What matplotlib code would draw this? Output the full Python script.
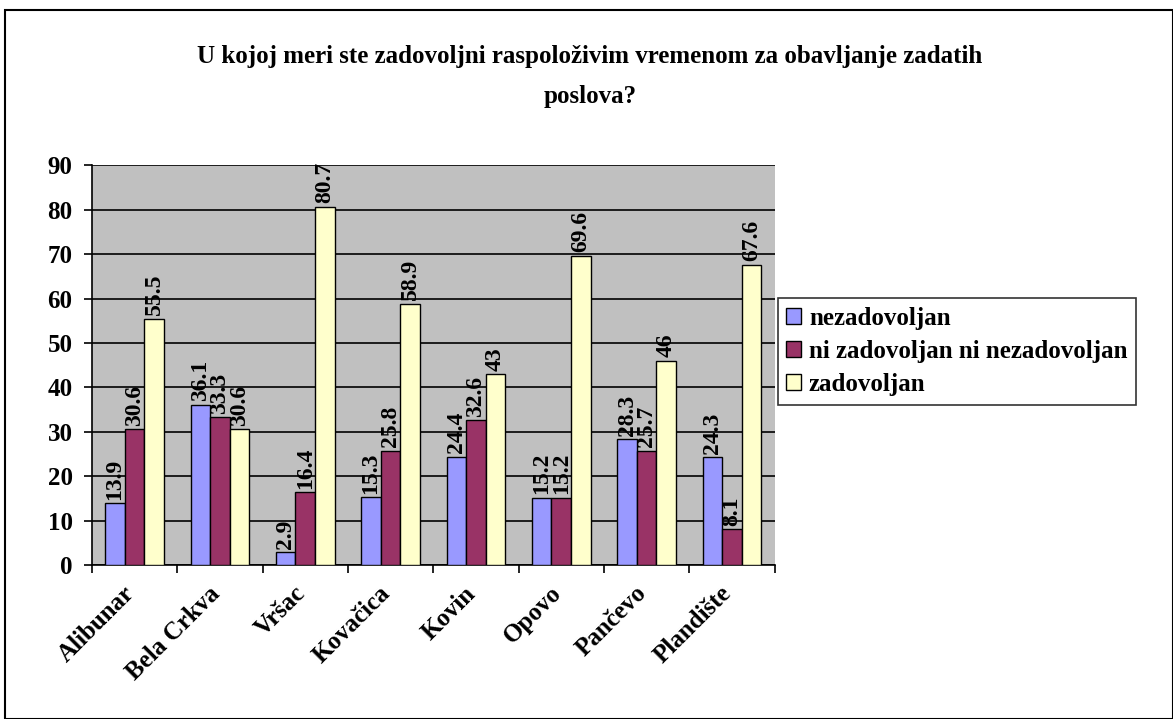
import matplotlib.pyplot as plt
import numpy as np
from matplotlib.patches import Rectangle
from matplotlib.transforms import ScaledTranslation

plt.rcParams['font.family'] = ['Liberation Serif', 'DejaVu Serif']
plt.rcParams['font.weight'] = 'bold'

gradovi = ['Alibunar', 'Bela Crkva', 'Vršac', 'Kovačica', 'Kovin', 'Opovo', 'Pančevo', 'Plandište']
nezadovoljan = [13.9, 36.1, 2.9, 15.3, 24.4, 15.2, 28.3, 24.3]
ni_ni = [30.6, 33.3, 16.4, 25.8, 32.6, 15.2, 25.7, 8.1]
zadovoljan = [55.5, 30.6, 80.7, 58.9, 43, 69.6, 46, 67.6]

serije = [
    ('nezadovoljan', nezadovoljan, '#9999FF'),
    ('ni zadovoljan ni nezadovoljan', ni_ni, '#993366'),
    ('zadovoljan', zadovoljan, '#FFFFCC'),
]

fig = plt.figure(figsize=(11.73, 7.19), dpi=100)
ax = fig.add_axes([0.0784, 0.214, 0.582, 0.556])
ax.set_facecolor('#C0C0C0')

x = np.arange(len(gradovi))
w = 0.23
for i, (ime, vals, boja) in enumerate(serije):
    pos = x + (i - 1) * w
    ax.bar(pos, vals, w, color=boja, edgecolor='black', linewidth=1, label=ime, zorder=3)
    for p, v in zip(pos, vals):
        ax.text(p, v + 0.8, f'{v:g}', rotation=90, ha='center', va='bottom',
                fontsize=17, fontweight='bold', zorder=4)

ax.set_xlim(-0.5, len(gradovi) - 0.5)
ax.set_ylim(0, 90)
ax.set_yticks(range(0, 91, 10))
ax.yaxis.grid(True, color='black', linewidth=1.2, zorder=1)
ax.set_axisbelow(True)
ax.tick_params(axis='y', labelsize=18, length=6, width=1.2, direction='out', pad=8)
for lab in ax.get_yticklabels():
    lab.set_fontweight('bold')

ax.set_xticks(x)
ax.set_xticklabels(gradovi, rotation=45, ha='right', rotation_mode='anchor',
                   fontsize=18, fontweight='bold')
ax.tick_params(axis='x', length=0, pad=12)
pomak = ScaledTranslation(-12 / 100, 0, fig.dpi_scale_trans)
for lab in ax.get_xticklabels():
    lab.set_transform(lab.get_transform() + pomak)
ax.set_xticks(np.arange(-0.5, len(gradovi), 1), minor=True)
ax.tick_params(axis='x', which='minor', length=6, width=1.2, direction='out')

for s in ['top', 'right']:
    ax.spines[s].set_visible(False)
ax.spines['left'].set_linewidth(1.2)
ax.spines['bottom'].set_linewidth(1.2)

fig.text(0.503, 0.922, 'U kojoj meri ste zadovoljni raspoloživim vremenom za obavljanje zadatih',
         ha='center', va='center', fontsize=18, fontweight='bold')
fig.text(0.503, 0.866, 'poslova?', ha='center', va='center', fontsize=18, fontweight='bold')

leg = fig.legend(loc='upper left', bbox_to_anchor=(0.663, 0.585), fontsize=18,
                 frameon=True, fancybox=False, edgecolor='black', handlelength=0.6,
                 handleheight=0.6, handletextpad=0.3, borderpad=0.35, labelspacing=0.4,
                 borderaxespad=0)
leg.get_frame().set_linewidth(1.2)
for t in leg.get_texts():
    t.set_fontweight('bold')

fig.patches.append(Rectangle((0.004, 0.0), 0.996, 0.986, transform=fig.transFigure,
                             fill=False, edgecolor='black', linewidth=1.5))

plt.savefig('out.png', dpi=100)
